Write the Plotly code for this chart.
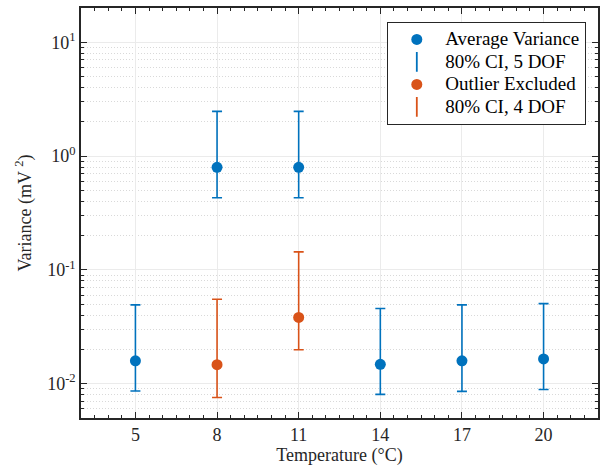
import plotly.graph_objects as go

# Data
temps_main = [5, 8, 11, 14, 17, 20]
var_main = [0.0159, 0.796, 0.796, 0.0148, 0.0159, 0.0165]
ci5_upper = [0.0493, 2.47, 2.47, 0.0458, 0.0493, 0.0506]
ci5_lower = [0.00863, 0.431, 0.431, 0.00806, 0.00857, 0.00891]

temps_out = [8, 11]
var_out = [0.0147, 0.0382]
ci4_upper = [0.0553, 0.144]
ci4_lower = [0.00758, 0.0199]

x_ticks = [5, 8, 11, 14, 17, 20]
y_ticks = [0.01, 0.1, 1, 10]
y_ticktext = ["10<sup>-2</sup>", "10<sup>-1</sup>", "10<sup>0</sup>", "10<sup>1</sup>"]

legend_names = ["Average Variance", "80% CI, 5 DOF", "Outlier Excluded", "80% CI, 4 DOF"]

BLUE = "#0072BD"
ORANGE = "#D95319"
FONT = "Liberation Serif"
DARK = "#262626"


def lname(s):
    return '<span style="font-size:19px">' + s + '</span>'


fig = go.Figure()

# Error bar traces
fig.add_trace(go.Scatter(
    x=temps_main, y=var_main, mode="markers",
    marker=dict(size=1, color=BLUE, opacity=0),
    error_y=dict(type="data", symmetric=False,
                 array=[u - v for u, v in zip(ci5_upper, var_main)],
                 arrayminus=[v - l for v, l in zip(var_main, ci5_lower)],
                 color=BLUE, thickness=1.6, width=5),
    showlegend=False, hoverinfo="skip"))
fig.add_trace(go.Scatter(
    x=temps_out, y=var_out, mode="markers",
    marker=dict(size=1, color=ORANGE, opacity=0),
    error_y=dict(type="data", symmetric=False,
                 array=[u - v for u, v in zip(ci4_upper, var_out)],
                 arrayminus=[v - l for v, l in zip(var_out, ci4_lower)],
                 color=ORANGE, thickness=1.6, width=5),
    showlegend=False, hoverinfo="skip"))

# Markers and legend entries
fig.add_trace(go.Scatter(x=temps_main, y=var_main, mode="markers",
                         marker=dict(size=11, color=BLUE),
                         name=lname(legend_names[0]), legendrank=1))
fig.add_trace(go.Scatter(x=[None], y=[None], mode="markers",
                         marker=dict(symbol="line-ns-open", size=14, color=BLUE,
                                     line=dict(color=BLUE, width=1.8)),
                         name=lname(legend_names[1]), legendrank=2))
fig.add_trace(go.Scatter(x=temps_out, y=var_out, mode="markers",
                         marker=dict(size=11, color=ORANGE),
                         name=lname(legend_names[2]), legendrank=3))
fig.add_trace(go.Scatter(x=[None], y=[None], mode="markers",
                         marker=dict(symbol="line-ns-open", size=14, color=ORANGE,
                                     line=dict(color=ORANGE, width=1.8)),
                         name=lname(legend_names[3]), legendrank=4))

axis_common = dict(
    showline=True, linecolor=DARK, linewidth=1.5, mirror="ticks",
    ticks="inside", tickcolor=DARK, tickwidth=1.2, ticklen=6,
    tickfont=dict(family=FONT, size=18, color=DARK),
    gridcolor="#ebebeb", gridwidth=1, zeroline=False,
)

fig.update_xaxes(
    range=[3, 22], tickmode="array", tickvals=x_ticks,
    ticktext=[str(t) for t in x_ticks],
    title=dict(text="Temperature (°C)", font=dict(family=FONT, size=18, color=DARK), standoff=4),
    minor=dict(ticks="inside", dtick=0.5, tick0=3, ticklen=3, tickcolor=DARK, showgrid=False),
    **axis_common)

fig.update_yaxes(
    type="log", range=[-2.30103, 1.30103], tickmode="array",
    tickvals=y_ticks, ticktext=y_ticktext,
    title=dict(text="Variance (mV <sup>2</sup>)", font=dict(family=FONT, size=18, color=DARK), standoff=11),
    minor=dict(ticks="inside", dtick="D1", ticklen=3, tickcolor=DARK,
               showgrid=True, gridcolor="#d9d9d9", griddash="1px,2px", gridwidth=1),
    **axis_common)

fig.update_layout(
    width=603, height=472,
    margin=dict(l=81, r=3, t=8, b=54),
    plot_bgcolor="white", paper_bgcolor="white",
    font=dict(family=FONT, size=18, color=DARK),
    legend=dict(x=0.977, y=0.966, xanchor="right", yanchor="top",
                bgcolor="white", bordercolor=DARK, borderwidth=1.2,
                font=dict(family=FONT, size=15, color="black"),
                itemwidth=47, tracegroupgap=0),
)

fig.write_html("out.html")
